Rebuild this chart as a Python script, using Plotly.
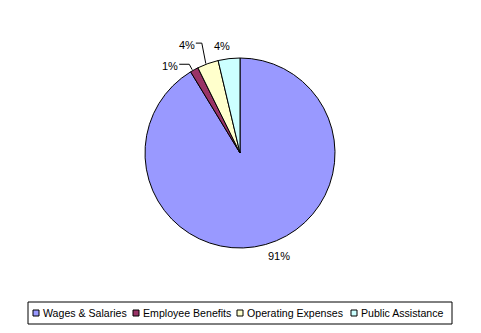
import math
import plotly.graph_objects as go

# ---- data ----
categories = ["Wages & Salaries", "Employee Benefits", "Operating Expenses", "Public Assistance"]
values = [91.3, 1.4, 3.6, 3.7]
colors = ["#9999FF", "#993366", "#FFFFCC", "#CCFFFF"]

# ---- layout constants (pixels) ----
W, H = 481, 333
CX, CY, R = 240, 153, 95
FONT = "Liberation Sans, Arial, sans-serif"

# label offsets from slice mid-edge point (px) and whether a leader line is drawn
label_offsets = [(13, 12), (-24, -4), (-21, -19), (-7, -13)]
leader = [False, True, True, False]

def px(x):
    return x / W

def py(y):
    return 1 - y / H

fig = go.Figure(go.Pie(
    labels=categories, values=values, sort=False, direction="clockwise", rotation=0,
    marker=dict(colors=colors, line=dict(color="#000000", width=1)),
    textinfo="none", hoverinfo="label+percent", showlegend=False,
    domain=dict(x=[px(CX - R), px(CX + R)], y=[py(CY + R), py(CY - R)]),
))

total = sum(values)
cum = 0.0
shapes = []
annotations = []
for i, v in enumerate(values):
    mid = (cum + v / 2) / total * 2 * math.pi
    cum += v
    ex = CX + R * math.sin(mid)
    ey = CY - R * math.cos(mid)
    dx, dy = label_offsets[i]
    lx, ly = ex + dx, ey + dy
    pct = round(v / total * 100)
    annotations.append(dict(x=px(lx), y=py(ly), xref="paper", yref="paper", text=f"{pct}%",
                            showarrow=False, xanchor="center", yanchor="middle",
                            font=dict(family=FONT, size=11, color="#000")))
    if leader[i]:
        # horizontal segment right of label, then to slice edge
        sx = lx + 9
        kx = ex - 5 if i == 1 else ex - 6
        ky = ly - 1.5
        path = f"M {px(sx)} {py(ky)} L {px(kx)} {py(ky)} L {px(ex - 2)} {py(ey)}"
        shapes.append(dict(type="path", path=path, xref="paper", yref="paper",
                           line=dict(color="#000", width=1)))

# ---- manual legend ----
LEG_X0, LEG_X1, LEG_Y0, LEG_Y1 = 28, 452, 302, 324
leg_y = (LEG_Y0 + LEG_Y1) / 2
leg_sq_x = [33, 133, 237, 351]
shapes.append(dict(type="rect", xref="paper", yref="paper",
                   x0=px(LEG_X0), x1=px(LEG_X1), y0=py(LEG_Y1), y1=py(LEG_Y0),
                   line=dict(color="#000", width=1), fillcolor="rgba(0,0,0,0)"))
for i, name in enumerate(categories):
    sx = leg_sq_x[i]
    shapes.append(dict(type="rect", xref="paper", yref="paper",
                       x0=px(sx), x1=px(sx + 6), y0=py(leg_y + 3), y1=py(leg_y - 3),
                       line=dict(color="#000", width=1), fillcolor=colors[i]))
    annotations.append(dict(x=px(sx + 8), y=py(leg_y), xref="paper", yref="paper", text=name,
                            showarrow=False, xanchor="left", yanchor="middle",
                            font=dict(family=FONT, size=10.6, color="#000")))

fig.update_layout(
    width=W, height=H, margin=dict(l=0, r=0, t=0, b=0),
    paper_bgcolor="white", plot_bgcolor="white",
    shapes=shapes, annotations=annotations, showlegend=False,
)
fig.write_html("out.html")
